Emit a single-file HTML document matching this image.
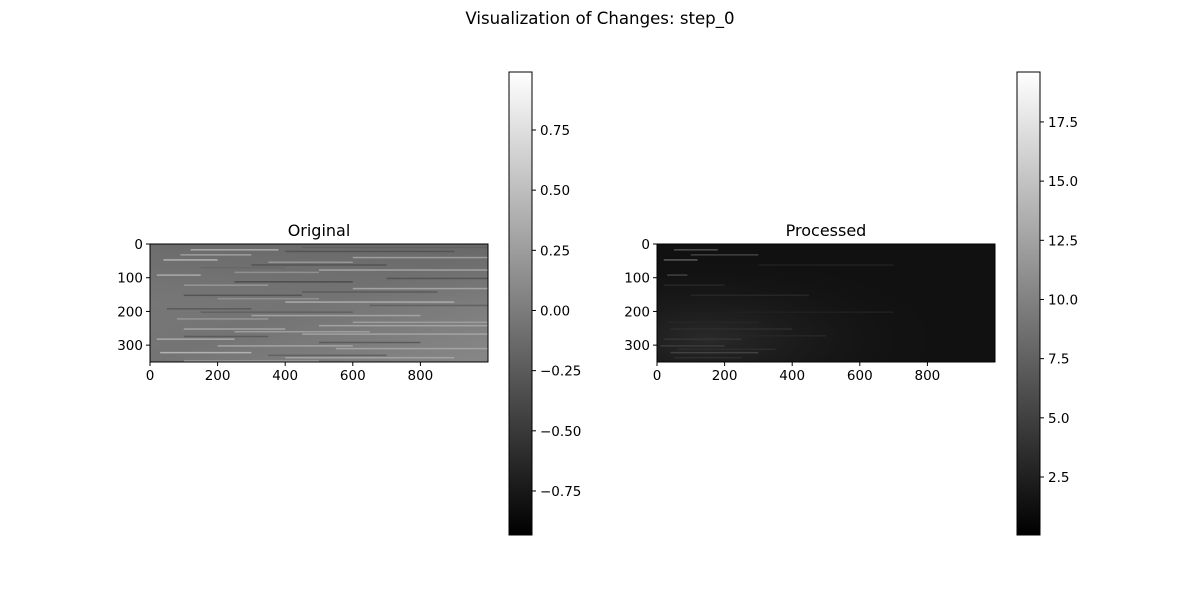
<!DOCTYPE html>
<html><head><meta charset="utf-8"><style>
body{margin:0;background:#fff}
svg text{font-family:"DejaVu Sans","Liberation Sans",sans-serif;fill:#000}
</style></head><body>
<svg id="fig" width="1200" height="600" xmlns="http://www.w3.org/2000/svg">
<defs>
<linearGradient id="cbg" x1="0" y1="1" x2="0" y2="0"><stop offset="0" stop-color="#000"/><stop offset="1" stop-color="#fff"/></linearGradient>
<linearGradient id="origBase" x1="0" y1="0" x2="1" y2="1"><stop offset="0" stop-color="#7a7a7a"/><stop offset="0.5" stop-color="#747474"/><stop offset="1" stop-color="#878787"/></linearGradient>
<linearGradient id="origTop" x1="0" y1="0" x2="0" y2="1"><stop offset="0" stop-color="#5e5e5e" stop-opacity="0.5"/><stop offset="0.5" stop-color="#5e5e5e" stop-opacity="0"/></linearGradient>
<radialGradient id="procGlow" cx="0.15" cy="0.8" r="0.7"><stop offset="0" stop-color="#2a2a2a"/><stop offset="1" stop-color="#141414" stop-opacity="0"/></radialGradient>
</defs>
<text x="600" y="24" font-size="16.6" text-anchor="middle">Visualization of Changes: step_0</text>
<g id="p1"></g>
<g id="p2"></g>
</svg>
<script>
const xTicks=[0,200,400,600,800];
const yTicks=[0,100,200,300];
const cb1Ticks=[-0.75,-0.5,-0.25,0,0.25,0.5,0.75];
const cb1Labels=["\u22120.75","\u22120.50","\u22120.25","0.00","0.25","0.50","0.75"];
const cb1Range=[-0.933,0.991];
const cb2Ticks=[2.5,5,7.5,10,12.5,15,17.5];
const cb2Labels=["2.5","5.0","7.5","10.0","12.5","15.0","17.5"];
const cb2Range=[0.05,19.61];
// streaks: [row, startCol, endCol, value]
const origStreaks=[[15,120,380,0.35],[30,90,300,0.25],[45,40,200,0.4],[60,300,700,-0.3],[75,500,1000,0.3],[90,20,150,0.35],[110,250,600,-0.35],[130,600,1000,0.3],[150,100,450,-0.3],[170,400,900,0.35],[190,50,300,-0.25],[210,300,800,0.3],[230,600,1000,0.25],[250,100,400,0.3],[265,450,1000,0.3],[280,20,250,0.35],[300,200,600,0.3],[320,30,300,0.4],[335,400,900,0.3],[20,400,900,-0.3],[100,700,1000,-0.3],[200,150,600,-0.2],[290,500,800,-0.25],
[8,450,1000,-0.2],[38,600,1000,0.25],[52,350,600,0.2],[68,150,400,-0.15],[82,250,500,0.15],[120,100,350,0.2],[140,450,850,-0.25],[160,200,500,0.15],[180,650,1000,-0.2],[220,80,350,0.2],[240,500,1000,0.3],[258,250,650,0.25],[272,100,350,-0.25],[308,550,1000,0.3],[328,350,700,-0.2],[345,100,500,0.3]];
const procStreaks=[[15,50,180,6],[30,100,300,5],[45,20,120,7],[90,30,90,5],[150,100,450,3],[250,40,400,3.5],[280,20,250,4],[300,10,200,4.5],[320,40,300,5],[335,50,250,3.5],[60,300,700,2.5],[200,200,700,2.5],[120,20,200,3],[230,30,300,3],[310,60,350,3.5],[270,150,500,3]];
const W=1000,H=350;
const svg=document.getElementById('fig');
const NS='http://www.w3.org/2000/svg';
function mk(p,t,a){const e=document.createElementNS(NS,t);for(const k in a)e.setAttribute(k,a[k]);p.appendChild(e);return e;}
function panel(g,x0,title,bg,overlay,streaks,range,cbx,cbTicks,cbLabels){
  const w=338,h=118,y0=244;
  const sx=v=>x0+v*w/W, sy=v=>y0+v*h/H;
  const gray=v=>{const t=Math.max(0,Math.min(1,(v-range[0])/(range[1]-range[0])));const c=Math.round(t*255);return `rgb(${c},${c},${c})`;};
  let r=mk(g,'rect',{x:x0,y:y0,width:w,height:h,fill:bg});
  
  
  if(overlay){r=mk(g,'rect',{x:x0,y:y0,width:w,height:h,fill:overlay});
  
  }
  streaks.forEach(s=>{const l=mk(g,'rect',{x:sx(s[1]),y:sy(s[0]),width:sx(s[2])-sx(s[1]),height:1.5,fill:gray(s[3])});
    
    });
  r=mk(g,'rect',{x:x0,y:y0,width:w,height:h,fill:'none',stroke:'#000','stroke-width':1});
  
  
  const t=mk(g,'text',{x:x0+w/2,y:y0-8,'font-size':16,'text-anchor':'middle'});t.textContent=title;
  
  
  xTicks.forEach(v=>{const l=mk(g,'line',{x1:sx(v),x2:sx(v),y1:y0+h,y2:y0+h+4,stroke:'#000'});
    
    
    const tx=mk(g,'text',{x:sx(v),y:y0+h+18,'font-size':13.5,'text-anchor':'middle'});tx.textContent=v;
    
    });
  yTicks.forEach(v=>{const l=mk(g,'line',{x1:x0-4,x2:x0,y1:sy(v),y2:sy(v),stroke:'#000'});
    
    
    const tx=mk(g,'text',{x:x0-7,y:sy(v)+5,'font-size':13.5,'text-anchor':'end'});tx.textContent=v;
    
    });
  const cy0=72,ch=463,cw=23;
  const cy=v=>cy0+ch*(range[1]-v)/(range[1]-range[0]);
  r=mk(g,'rect',{x:cbx,y:cy0,width:cw,height:ch,fill:'url(#cbg)',stroke:'#000','stroke-width':1});
  
  
  cbTicks.forEach((v,i)=>{const l=mk(g,'line',{x1:cbx+cw,x2:cbx+cw+4,y1:cy(v),y2:cy(v),stroke:'#000'});
    
    
    const tx=mk(g,'text',{x:cbx+cw+8,y:cy(v)+5,'font-size':13.5});tx.textContent=cbLabels[i];
    
    });
}
panel(document.getElementById('p1'),150,'Original','url(#origBase)','url(#origTop)',origStreaks,cb1Range,509,cb1Ticks,cb1Labels);
panel(document.getElementById('p2'),657,'Processed','#111','url(#procGlow)',procStreaks,cb2Range,1017,cb2Ticks,cb2Labels);
</script>
</body></html>
